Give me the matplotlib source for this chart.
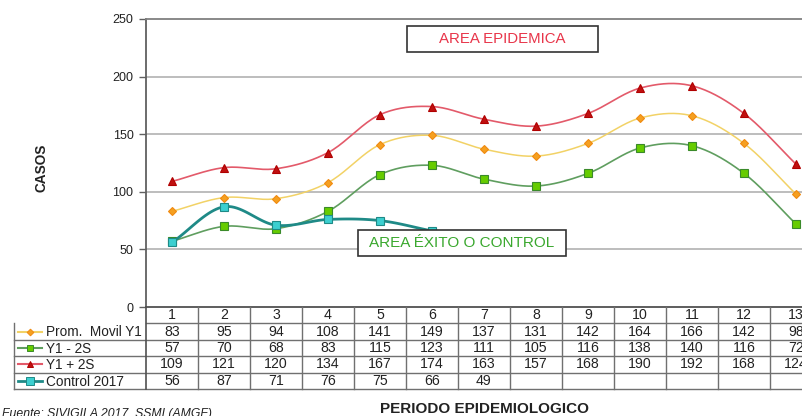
import numpy as np
import matplotlib
matplotlib.use("Agg")
import matplotlib.pyplot as plt
from matplotlib.patches import Rectangle

plt.rcParams['font.family'] = ['Liberation Sans', 'DejaVu Sans']

periods = list(range(1, 14))
prom_movil = [83, 95, 94, 108, 141, 149, 137, 131, 142, 164, 166, 142, 98]
y1_minus = [57, 70, 68, 83, 115, 123, 111, 105, 116, 138, 140, 116, 72]
y1_plus = [109, 121, 120, 134, 167, 174, 163, 157, 168, 190, 192, 168, 124]
control_2017 = [56, 87, 71, 76, 75, 66, 49]
control_plotted = 6  # points drawn in the chart

series_labels = ["Prom.  Movil Y1", "Y1 - 2S", "Y1 + 2S", "Control 2017"]
y_ticks = [0, 50, 100, 150, 200, 250]

W, H = 802, 416
fig = plt.figure(figsize=(W / 100, H / 100), dpi=100)


def fx(px):
    return px / W


def fy(py):
    return 1 - py / H


def catmull(x, y, n=20):
    x = np.asarray(x, float)
    y = np.asarray(y, float)
    if len(x) < 3:
        return x, y
    px = np.concatenate([[2 * x[0] - x[1]], x, [2 * x[-1] - x[-2]]])
    py = np.concatenate([[2 * y[0] - y[1]], y, [2 * y[-1] - y[-2]]])
    ox, oy = [], []
    for i in range(1, len(px) - 2):
        t = np.linspace(0, 1, n, endpoint=(i == len(px) - 3))
        for arr, out in ((px, ox), (py, oy)):
            p0, p1, p2, p3 = arr[i - 1], arr[i], arr[i + 1], arr[i + 2]
            out.extend(0.5 * ((2 * p1) + (-p0 + p2) * t +
                              (2 * p0 - 5 * p1 + 4 * p2 - p3) * t ** 2 +
                              (-p0 + 3 * p1 - 3 * p2 + p3) * t ** 3))
    return np.array(ox), np.array(oy)


# main axes
x0, x1 = 146, 822
y_top, y_bot = 19, 307
ax = fig.add_axes([fx(x0), fy(y_bot), fx(x1) - fx(x0), fy(y_top) - fy(y_bot)])
ax.set_xlim(0.5, 13.5)
ax.set_ylim(0, 250)
ax.set_yticks(y_ticks)
ax.set_yticklabels([str(v) for v in y_ticks], fontsize=9, color='#222222')
ax.set_xticks([])
for v in y_ticks[1:-1]:
    ax.axhline(v, color='#b8b8b8', lw=1.3, zorder=1)
for s in ['right', 'bottom']:
    ax.spines[s].set_visible(False)
ax.spines['left'].set_color('#606060')
ax.spines['left'].set_linewidth(1.3)
ax.spines['top'].set_color('#808080')
ax.spines['top'].set_linewidth(1.3)
ax.tick_params(axis='y', length=5, color='#606060', width=1.0, pad=4)

styles = [
    dict(lc='#f2d266', mc='#f5a020', me='#f08a10', m='D', ms=4.0, lw=1.1),
    dict(lc='#5f9e5f', mc='#66cc00', me='#3a8a2a', m='s', ms=5.5, lw=1.2),
    dict(lc='#e35a6a', mc='#c01010', me='#b00000', m='^', ms=5.5, lw=1.2),
    dict(lc='#1f8a87', mc='#3ccfd0', me='#1f8a87', m='s', ms=6.0, lw=2.0),
]
data = [prom_movil, y1_minus, y1_plus, control_2017[:control_plotted]]
zs = [3, 3, 3, 4]
for d, st, z in zip(data, styles, zs):
    xs = periods[:len(d)]
    sx, sy = catmull(xs, d)
    ax.plot(sx, sy, color=st['lc'], lw=st['lw'], zorder=z, clip_on=False)
    ax.plot(xs, d, ls='none', marker=st['m'], ms=st['ms'], mfc=st['mc'],
            mec=st['me'], mew=0.8, zorder=z + 1, clip_on=False)


# annotation boxes
def box_text(xa, ya, xb, yb, text, color, size):
    fig.patches.append(Rectangle((fx(xa), fy(yb)), fx(xb) - fx(xa), fy(ya) - fy(yb),
                                 transform=fig.transFigure, fill=True, fc='white',
                                 ec='#333333', lw=1.2, zorder=10))
    fig.text(fx((xa + xb) / 2), fy((ya + yb) / 2), text, color=color, fontsize=size,
             ha='center', va='center', zorder=11)


box_text(407, 26, 598, 52, "AREA EPIDEMICA", '#e8354a', 10.8)
box_text(358, 230, 566, 256, "AREA ÉXITO O CONTROL", '#3aa82e', 11)

# table axes
t_left, t_top, t_bot = 14, 307, 389
tax = fig.add_axes([fx(t_left), fy(t_bot), fx(x1) - fx(t_left), fy(t_top) - fy(t_bot)])
col_w = (x1 - x0) / 13.0
lab_w = (x0 - t_left) / col_w
tax.set_xlim(0.5 - lab_w, 13.5)
tax.set_ylim(5, 0)
tax.axis('off')
gc = '#707070'
tax.plot([0.5, 13.5], [1, 1], color=gc, lw=1.0, clip_on=False)
for r in [2, 3, 4, 5]:
    tax.plot([0.5 - lab_w, 13.5], [r, r], color=gc, lw=1.0, clip_on=False)
tax.plot([0.5, 13.5], [0, 0], color='#505050', lw=1.3, clip_on=False)
tax.plot([0.5 - lab_w] * 2, [1, 5], color=gc, lw=1.0, clip_on=False)
tax.plot([0.5, 0.5], [0, 5], color='#505050', lw=1.2, clip_on=False)
for c in range(1, 14):
    tax.plot([c + 0.5] * 2, [0, 5], color=gc, lw=1.0, clip_on=False)

fs = 10.2
for c in periods:
    tax.text(c, 0.5, str(c), ha='center', va='center', fontsize=fs, color='#222222')
table_vals = [prom_movil, y1_minus, y1_plus, control_2017]
for r, vals in enumerate(table_vals):
    for c, v in zip(periods, vals):
        tax.text(c, r + 1.5, str(v), ha='center', va='center', fontsize=fs, color='#222222')
    st = styles[r]
    lx0 = 0.5 - lab_w + 4 / col_w
    lx1 = 0.5 - lab_w + 28 / col_w
    tax.plot([lx0, lx1], [r + 1.5] * 2, color=st['lc'], lw=1.5 if r < 3 else 2.0, clip_on=False)
    tax.plot([(lx0 + lx1) / 2], [r + 1.5], ls='none', marker=st['m'], ms=st['ms'] * 0.85,
             mfc=st['mc'], mec=st['me'], mew=0.7, clip_on=False)
    tax.text(0.5 - lab_w + 32 / col_w, r + 1.55, series_labels[r], ha='left', va='center',
             fontsize=9.8, color='#222222')

# axis titles
fig.text(fx(42), fy(168), "CASOS", rotation=90, ha='center', va='center',
         fontsize=9.8, fontweight='bold', color='#222222')
fig.text(fx(485), fy(409), "PERIODO EPIDEMIOLOGICO", ha='center', va='center',
         fontsize=11, fontweight='bold', color='#222222')
fig.text(fx(2), fy(408), "Fuente: SIVIGILA 2017, SSMI (AMGF)", ha='left', va='top',
         fontsize=8.8, style='italic', color='#222222')

fig.savefig("out.png", dpi=100)
